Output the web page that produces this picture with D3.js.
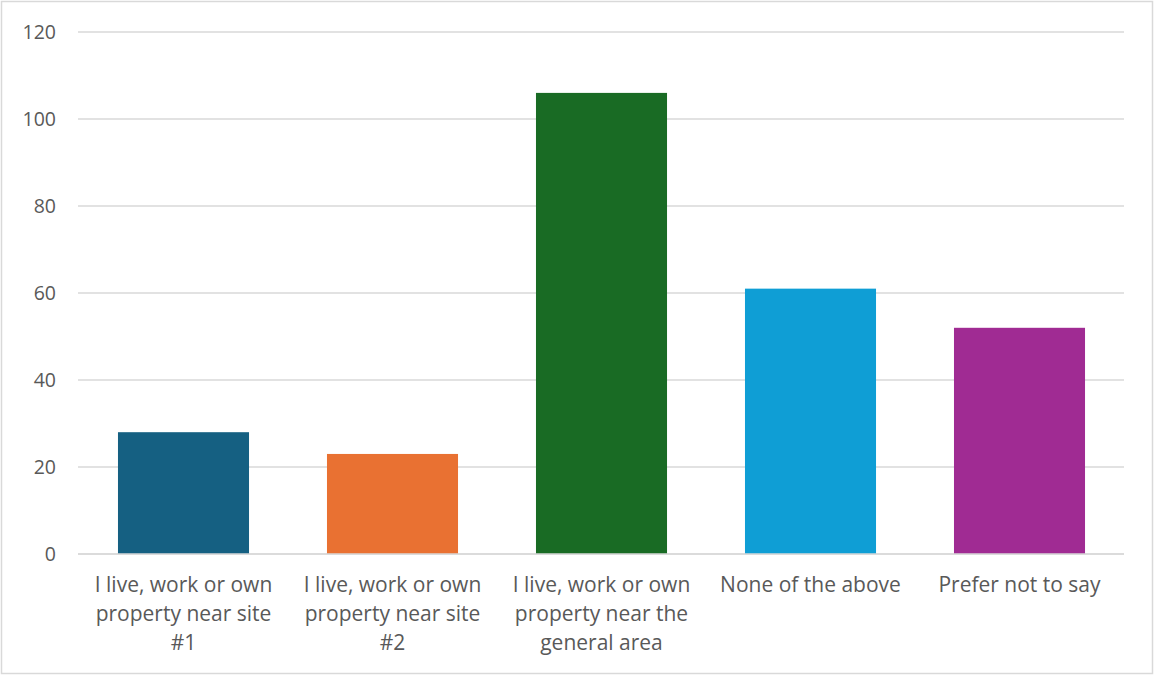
<!DOCTYPE html>
<html>
<head>
<meta charset="utf-8">
<script src="https://cdn.jsdelivr.net/npm/d3@7"></script>
<style>
  html, body { margin: 0; padding: 0; background: #fff; }
  svg { display: block; }
  text { font-family: "Open Sans", "Noto Sans", sans-serif; fill: #595959; }
</style>
</head>
<body>
<svg id="chart" width="1154" height="675"></svg>
<script>
const categories = [
  ["I live, work or own", "property near site", "#1"],
  ["I live, work or own", "property near site", "#2"],
  ["I live, work or own", "property near the", "general area"],
  ["None of the above"],
  ["Prefer not to say"]
];
const values = [28, 23, 106, 61, 52];
const colors = ["#156082", "#E97132", "#196B24", "#0F9ED5", "#A02B93"];
const yTicks = [0, 20, 40, 60, 80, 100, 120];

const W = 1154, H = 675;
const margin = { left: 79, right: 30, top: 32, bottom: 121 };
const svg = d3.select("#chart");

// outer frame
svg.append("rect")
  .attr("x", 1.5).attr("y", 1.5)
  .attr("width", W - 3).attr("height", H - 3)
  .attr("fill", "#fff").attr("stroke", "#D9D9D9").attr("stroke-width", 1.5);

const x = d3.scaleBand()
  .domain(d3.range(values.length))
  .range([margin.left, W - margin.right])
  .paddingInner(0.373).paddingOuter(0.1865);

const y = d3.scaleLinear()
  .domain([0, 120])
  .range([H - margin.bottom, margin.top]);

// gridlines
svg.append("g")
  .selectAll("line")
  .data(yTicks)
  .join("line")
  .attr("x1", margin.left - 1).attr("x2", W - margin.right)
  .attr("y1", d => y(d)).attr("y2", d => y(d))
  .attr("stroke", "#D9D9D9").attr("stroke-width", 1.5);

// y axis labels
const yAxis = d3.axisLeft(y).tickValues(yTicks).tickSize(0).tickPadding(22);
const gy = svg.append("g").attr("transform", `translate(${margin.left - 1},0)`).call(yAxis);
gy.select(".domain").remove();
gy.selectAll("text")
  .attr("font-size", 19.5)
  .style("font-family", '"Open Sans", "Noto Sans", sans-serif')
  .attr("fill", "#595959");

// bars
svg.append("g")
  .selectAll("rect")
  .data(values)
  .join("rect")
  .attr("x", (d, i) => x(i))
  .attr("width", x.bandwidth())
  .attr("y", d => y(d))
  .attr("height", d => y(0) - y(d))
  .attr("fill", (d, i) => colors[i]);

// baseline
svg.append("line")
  .attr("x1", margin.left - 1).attr("x2", W - margin.right)
  .attr("y1", y(0)).attr("y2", y(0))
  .attr("stroke", "#D9D9D9").attr("stroke-width", 1.5);

// category labels
const lab = svg.append("g")
  .selectAll("text")
  .data(categories)
  .join("text")
  .attr("text-anchor", "middle")
  .attr("font-size", 21)
  .attr("x", (d, i) => x(i) + x.bandwidth() / 2)
  .attr("y", y(0) + 38);
lab.selectAll("tspan")
  .data(d => d)
  .join("tspan")
  .attr("x", function () { return d3.select(this.parentNode).attr("x"); })
  .attr("dy", (d, j) => j === 0 ? 0 : 29)
  .text(d => d);
</script>
</body>
</html>
